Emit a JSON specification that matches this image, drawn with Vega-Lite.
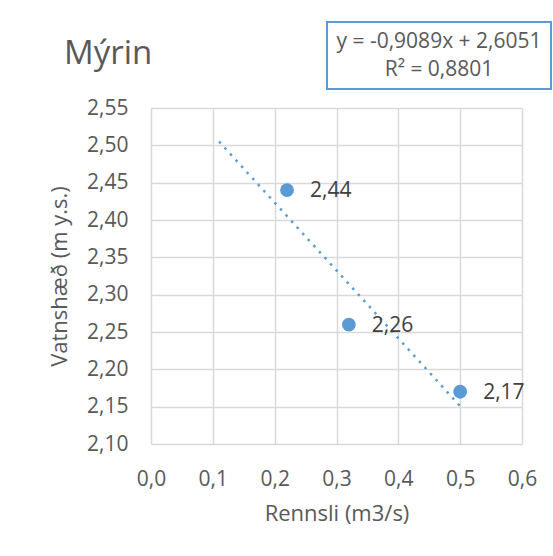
{
  "$schema": "https://vega.github.io/schema/vega-lite/v6.json",
  "width": 371,
  "height": 336,
  "autosize": {"type": "none"},
  "padding": {"left": 151, "top": 108, "right": 31, "bottom": 112},
  "background": "white",
  "title": {
    "text": "Mýrin",
    "anchor": "start",
    "frame": "group",
    "font": "Open Sans",
    "fontSize": 33,
    "fontWeight": "normal",
    "color": "#595959",
    "dx": -87,
    "dy": 54
  },
  "data": {
    "values": [
      {"rennsli": 0.22, "vatnshaed": 2.44},
      {"rennsli": 0.32, "vatnshaed": 2.26},
      {"rennsli": 0.5, "vatnshaed": 2.17}
    ]
  },
  "encoding": {
    "x": {
      "field": "rennsli",
      "type": "quantitative",
      "scale": {"domain": [0, 0.6], "nice": false, "zero": false},
      "axis": {
        "title": "Rennsli (m3/s)",
        "values": [0, 0.1, 0.2, 0.3, 0.4, 0.5, 0.6],
        "format": ".1f",
        "labelFlush": false,
        "labelPadding": 24,
        "titlePadding": 14
      }
    },
    "y": {
      "field": "vatnshaed",
      "type": "quantitative",
      "scale": {"domain": [2.1, 2.55], "nice": false, "zero": false},
      "axis": {
        "title": "Vatnshæð (m y.s.)",
        "values": [2.1, 2.15, 2.2, 2.25, 2.3, 2.35, 2.4, 2.45, 2.5, 2.55],
        "format": ".2f",
        "labelFlush": false,
        "labelPadding": 23,
        "titlePadding": 15
      }
    }
  },
  "layer": [
    {
      "transform": [
        {"regression": "vatnshaed", "on": "rennsli", "extent": [0.11, 0.5]}
      ],
      "mark": {"type": "line", "strokeWidth": 2.5, "strokeDash": [2.5, 5.75]},
      "encoding": {
        "color": {
          "datum": "trend",
          "scale": {"range": ["#5b9bd5"]},
          "legend": {
            "orient": "none",
            "legendX": 176,
            "legendY": -86,
            "title": null,
            "labelExpr": "['y = -0,9089x + 2,6051', 'R² = 0,8801']",
            "labelAlign": "center",
            "labelOffset": 82,
            "labelFont": "Open Sans",
            "labelFontSize": 21,
            "labelColor": "#595959",
            "labelLimit": 600,
            "symbolSize": 0,
            "symbolOpacity": 0,
            "symbolStrokeWidth": 0,
            "strokeColor": "#5b9bd5",
            "padding": 9,
            "encode": {
              "labels": {"update": {"lineHeight": {"value": 28}}},
              "legend": {"update": {"strokeWidth": {"value": 2}}}
            }
          }
        }
      }
    },
    {
      "mark": {"type": "point", "filled": true, "size": 190, "opacity": 1, "color": "#5b9bd5"}
    },
    {
      "mark": {
        "type": "text",
        "align": "left",
        "baseline": "middle",
        "dx": 23,
        "dy": 1,
        "font": "Open Sans",
        "fontSize": 21,
        "color": "#404040"
      },
      "encoding": {
        "text": {"field": "vatnshaed", "type": "quantitative", "format": ".2f"}
      }
    }
  ],
  "config": {
    "locale": {
      "number": {"decimal": ",", "thousands": ".", "grouping": [3], "currency": ["", " kr."]}
    },
    "view": {"stroke": null},
    "axis": {
      "domain": false,
      "ticks": false,
      "tickSize": 0,
      "grid": true,
      "gridColor": "#d9d9d9",
      "gridWidth": 1.5,
      "labelFont": "Open Sans",
      "labelFontSize": 21,
      "labelColor": "#595959",
      "titleFont": "Open Sans",
      "titleFontSize": 22,
      "titleFontWeight": "normal",
      "titleColor": "#595959"
    }
  }
}
